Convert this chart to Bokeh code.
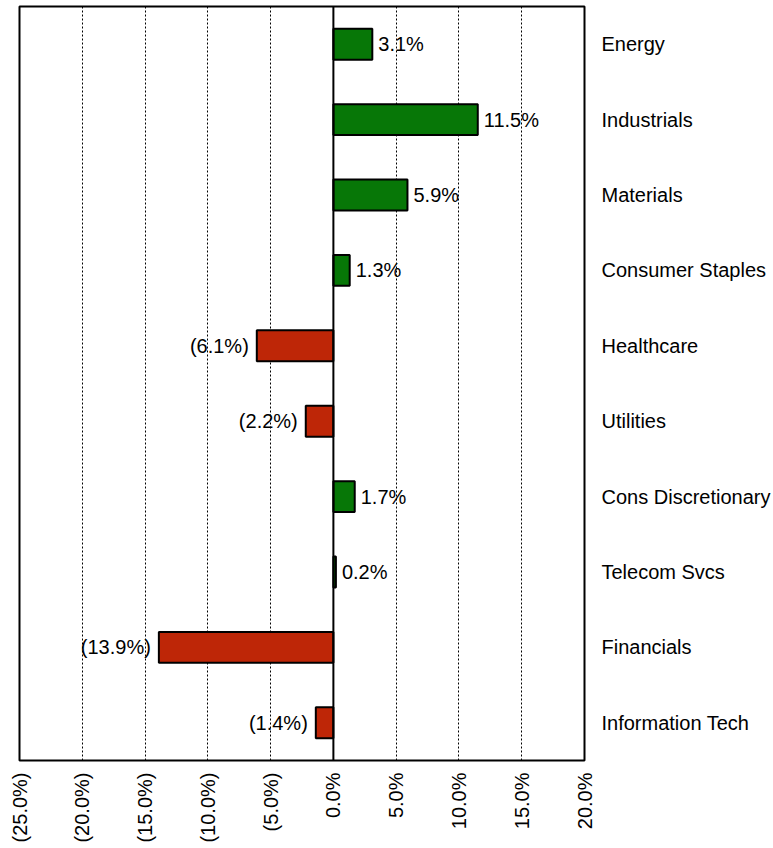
import math
from bokeh.plotting import figure
from bokeh.models import Range1d, FactorRange, FixedTicker, Span, ColumnDataSource, LinearAxis, CategoricalAxis
from bokeh.core.properties import value
from bokeh.embed import file_html
from bokeh.resources import INLINE

# ---- data ----
sectors = ["Energy", "Industrials", "Materials", "Consumer Staples", "Healthcare",
           "Utilities", "Cons Discretionary", "Telecom Svcs", "Financials", "Information Tech"]
changes = [3.1, 11.5, 5.9, 1.3, -6.1, -2.2, 1.7, 0.2, -13.9, -1.4]
x_ticks = [-25, -20, -15, -10, -5, 0, 5, 10, 15, 20]
x_tick_labels = ["(25.0%)", "(20.0%)", "(15.0%)", "(10.0%)", "(5.0%)",
                 "0.0%", "5.0%", "10.0%", "15.0%", "20.0%"]

GREEN = "#077707"
RED = "#be2607"
FONT = "Liberation Sans"
FS = "20px"

def fmt(v):
    return f"{v:.1f}%" if v >= 0 else f"({abs(v):.1f}%)"

src = ColumnDataSource(dict(
    sector=sectors,
    val=changes,
    color=[GREEN if v >= 0 else RED for v in changes],
    label=[fmt(v) for v in changes],
    align=["left" if v >= 0 else "right" for v in changes],
    off=[6 if v >= 0 else -8 for v in changes],
))

p = figure(frame_width=565, frame_height=754,
           x_range=Range1d(-25, 20),
           y_range=FactorRange(factors=list(reversed(sectors)), range_padding=0),
           output_backend="svg", toolbar_location=None,
           x_axis_location=None, y_axis_location=None,
           min_border_left=19, min_border_right=187, min_border_top=6, min_border_bottom=86)

p.outline_line_color = "black"
p.outline_line_width = 2
p.background_fill_color = "white"
p.border_fill_color = "white"

# grid
p.ygrid.visible = False
p.xgrid.ticker = FixedTicker(ticks=x_ticks)
p.xgrid.grid_line_color = "black"
p.xgrid.grid_line_dash = "2 2"
p.xgrid.grid_line_width = 1

# bars
p.hbar(y="sector", left=0, right="val", height=0.41, source=src,
       fill_color="color", line_color="black", line_width=2)

# zero line
p.add_layout(Span(location=0, dimension="height", line_color="black", line_width=2))

# value labels
p.text(x="val", y="sector", text="label", source=src,
       text_align="align", text_baseline="middle", x_offset="off",
       text_font=value(FONT), text_font_size=FS, text_color="black")

# bottom axis
xa = LinearAxis(ticker=FixedTicker(ticks=x_ticks))
xa.major_label_overrides = {t: l for t, l in zip(x_ticks, x_tick_labels)}
xa.major_label_orientation = math.pi / 2
xa.axis_line_color = None
xa.major_tick_line_color = None
xa.minor_tick_line_color = None
xa.major_tick_out = 0
xa.major_label_standoff = 12
xa.major_label_text_font = FONT
xa.major_label_text_font_size = "20px"
xa.major_label_text_color = "black"
p.add_layout(xa, "below")

# right category axis
ya = CategoricalAxis()
ya.axis_line_color = None
ya.major_tick_line_color = None
ya.major_tick_out = 0
ya.major_label_standoff = 17
ya.major_label_text_font = FONT
ya.major_label_text_font_size = FS
ya.major_label_text_color = "black"
ya.major_label_text_align = "left"
p.add_layout(ya, "right")

open("out.html", "w").write(file_html(p, INLINE))
